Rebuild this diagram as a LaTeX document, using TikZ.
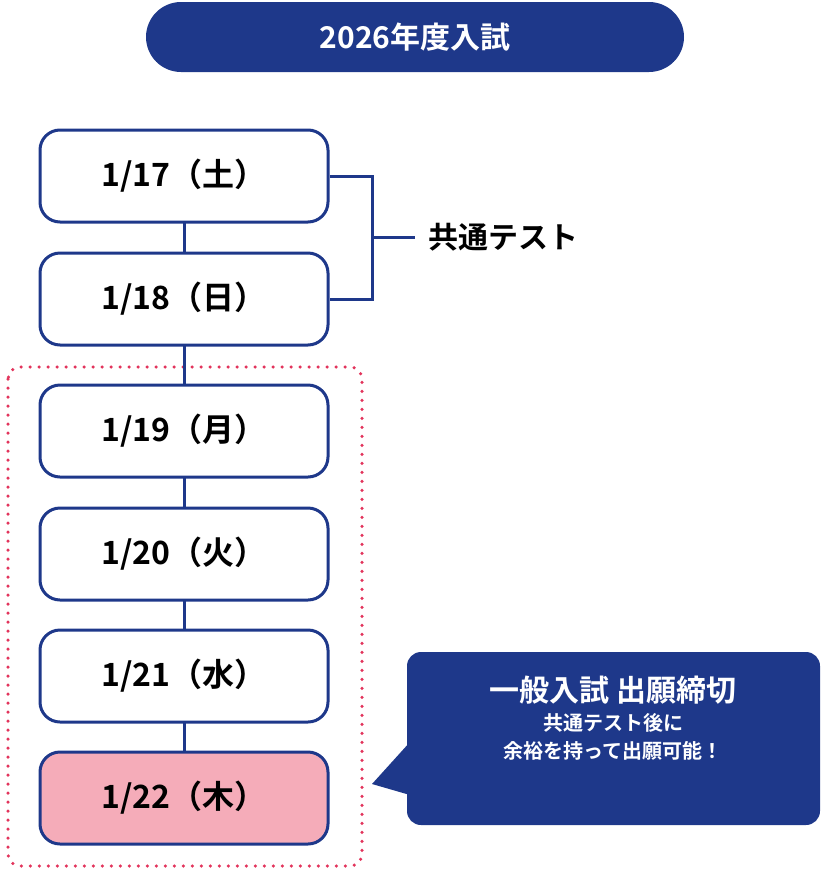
\documentclass[tikz,border=0pt]{standalone}
\usepackage{fontspec}
\setmainfont{Noto Sans CJK JP}[BoldFont={* Bold}]
\usetikzlibrary{positioning,calc}
\definecolor{navy}{RGB}{30,56,138}
\definecolor{dotred}{RGB}{226,52,92}
\definecolor{pinkfill}{RGB}{245,172,185}
\tikzset{
  datebox/.style={draw=navy, line width=3pt, fill=white, rounded corners=20pt,
    minimum width=288pt, minimum height=92pt, font=\fontsize{32}{36}\selectfont\bfseries},
  link/.style={draw=navy, line width=3pt}
}
\begin{document}
\begin{tikzpicture}[x=1pt,y=-1pt]
  \useasboundingbox (0,0) rectangle (821,871);

  % title
  \node (TITLE) [fill=navy, rounded corners=35pt, minimum width=538pt, minimum height=70pt,
    text=white, font=\fontsize{30}{34}\selectfont\bfseries] at (415,37) {2026年度入試};

  % red dotted frame
  \draw[dotred, line width=3.5pt, dash pattern=on 0pt off 9pt, line cap=round, rounded corners=12pt]
    (8,367) rectangle (362,866);

  % vertical line
  \draw[link] (184,176) -- (184,798);

  % dates
  \node (D17) [datebox] at (184,176) {1/17（土）};
  \node (D18) [datebox] at (184,299) {1/18（日）};
  \node (D19) [datebox] at (184,431) {1/19（月）};
  \node (D20) [datebox] at (184,554) {1/20（火）};
  \node (D21) [datebox] at (184,676) {1/21（水）};
  \node (D22) [datebox, fill=pinkfill] at (184,798) {1/22（木）};

  % bracket
  \coordinate (BR) at (415,237);
  \draw[link] (D17.east) -| (372,237) |- (D18.east);
  \draw[link] (372,237) -- (BR);
  \node (TEST) [right=10pt of BR, font=\fontsize{30}{34}\selectfont\bfseries] {共通テスト};

  % callout
  \fill[navy, rounded corners=14pt] (407,652) rectangle (820,825);
  \fill[navy] (410,742) -- (372,784) -- (410,795) -- cycle;
  \node (CALL) [text=white, align=center, font=\fontsize{30}{34}\selectfont\bfseries]
    at (613,690) {一般入試 出願締切};
  \node (SUB) [text=white, align=center, below=2pt of CALL,
    font=\fontsize{20}{28}\selectfont\bfseries] {共通テスト後に\\余裕を持って出願可能！};
\end{tikzpicture}
\end{document}
